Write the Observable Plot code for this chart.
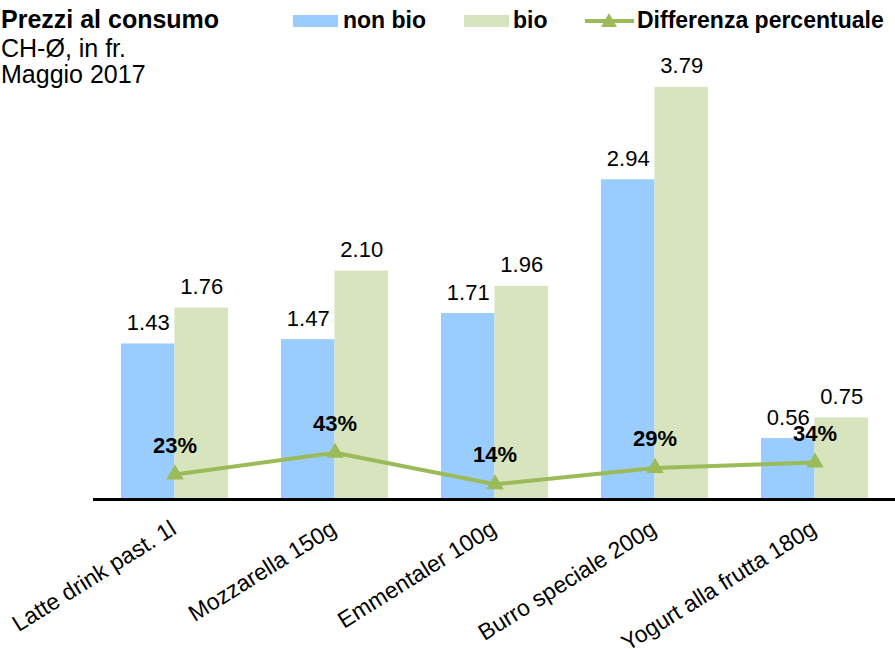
<!DOCTYPE html>
<html>
<head>
<meta charset="utf-8">
<script src="https://cdn.jsdelivr.net/npm/d3@7"></script>
<script src="https://cdn.jsdelivr.net/npm/@observablehq/plot@0.6"></script>
<style>
  html, body { margin: 0; padding: 0; background: #fff; }
  body { font-family: Arial, "Liberation Sans", sans-serif; color: #000; }
  #wrap { position: relative; width: 895px; height: 649px; overflow: hidden; }
  #chart { position: absolute; left: 0; top: 0; }
  .t { position: absolute; line-height: 1; white-space: nowrap; }
  .b { font-weight: bold; }
  .sw { position: absolute; }
</style>
</head>
<body>
<div id="wrap">
  <div id="chart"></div>
  <div class="t b" style="left:1px; top:7px; font-size:25px;">Prezzi al consumo</div>
  <div class="t" style="left:1px; top:36px; font-size:25px;">CH-Ø, in fr.</div>
  <div class="t" style="left:1px; top:62px; font-size:25px;">Maggio 2017</div>

  <div class="sw" style="left:293px; top:15px; width:45px; height:12px; background:#99CCFF;"></div>
  <div class="t b" style="left:343px; top:8.5px; font-size:23px;">non bio</div>
  <div class="sw" style="left:464px; top:15px; width:45px; height:12px; background:#D7E4BD;"></div>
  <div class="t b" style="left:513px; top:8.5px; font-size:23px;">bio</div>
  <svg class="sw" style="left:584px; top:10px;" width="52" height="22">
    <line x1="1" y1="11" x2="50" y2="11" stroke="#9BBB59" stroke-width="4"></line>
    <path d="M25,3 L33,17 L17,17 Z" fill="#9BBB59"></path>
  </svg>
  <div class="t b" style="left:637px; top:8.5px; font-size:23px;">Differenza percentuale</div>
</div>
<script>
const categories = ["Latte drink past. 1l", "Mozzarella 150g", "Emmentaler 100g", "Burro speciale 200g", "Yogurt alla frutta 180g"];
const nonBio = [1.43, 1.47, 1.71, 2.94, 0.56];
const bio = [1.76, 2.10, 1.96, 3.79, 0.75];
const diffPct = [23, 43, 14, 29, 34];

const rows = categories.map((c, i) => ({cat: c, nonBio: nonBio[i], bio: bio[i], pct: diffPct[i]}));

const W = 895, H = 649, ML = 93, MR = 0, MT = 64, MB = 150;
const step = (W - ML - MR) / 5;
const half = step * (2/3) / 2;

const chart = Plot.plot({
  width: W,
  height: H,
  marginLeft: ML,
  marginRight: MR,
  marginTop: MT,
  marginBottom: MB,
  style: {fontFamily: 'Arial, "Liberation Sans", sans-serif', background: "transparent", overflow: "visible"},
  x: {domain: categories, paddingInner: 1/3, paddingOuter: 1/6, axis: null},
  y: {domain: [0, 4], axis: null},
  marks: [
    Plot.barY(rows, {x: "cat", y: "nonBio", fill: "#99CCFF", insetRight: half}),
    Plot.barY(rows, {x: "cat", y: "bio", fill: "#D7E4BD", insetLeft: half}),
    Plot.ruleY([0], {stroke: "#000", strokeWidth: 3}),
    Plot.text(rows, {x: "cat", y: "nonBio", text: d => d.nonBio.toFixed(2), dx: -half / 2, dy: -21, fontSize: 22, lineAnchor: "middle", fill: "#000"}),
    Plot.text(rows, {x: "cat", y: "bio", text: d => d.bio.toFixed(2), dx: half / 2, dy: -21, fontSize: 22, lineAnchor: "middle", fill: "#000"}),
    Plot.line(rows, {x: "cat", y: d => d.pct / 100, stroke: "#9BBB59", strokeWidth: 4}),
    Plot.dot(rows, {x: "cat", y: d => d.pct / 100, symbol: "triangle", r: 6.5, fill: "#9BBB59", stroke: "none"}),
    Plot.text(rows, {x: "cat", y: d => d.pct / 100, text: d => d.pct + "%", dy: -29, fontSize: 22, fontWeight: "bold", lineAnchor: "middle", fill: "#000"}),
    Plot.text(categories, {x: d => d, frameAnchor: "bottom", text: d => d, rotate: -32, textAnchor: "end", lineAnchor: "middle", dx: -1, dy: 27, fontSize: 23, fill: "#000"})
  ]
});
document.getElementById("chart").appendChild(chart);
</script>
</body>
</html>
